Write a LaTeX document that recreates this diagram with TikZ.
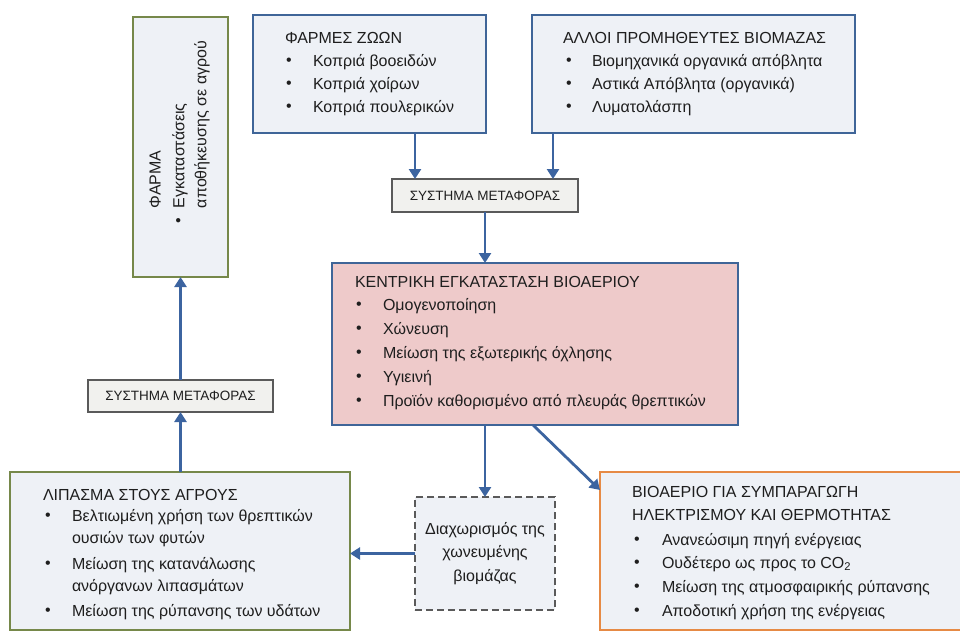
\documentclass[tikz,border=0pt]{standalone}
\usepackage{fontspec}
\setmainfont{Liberation Sans}
\usetikzlibrary{arrows.meta}
\definecolor{bblue}{HTML}{3F6598}
\definecolor{arrblue}{HTML}{3C64A0}
\definecolor{boxfill}{HTML}{EEF1F6}
\definecolor{pinkfill}{HTML}{EECACA}
\definecolor{olivec}{HTML}{76884A}
\definecolor{orng}{HTML}{E68A45}
\definecolor{grayb}{HTML}{5A5A5A}
\definecolor{grayfill}{HTML}{F1F1EE}
\definecolor{txtc}{HTML}{1E1E1E}
\newcommand\bitem[5]{%
  \node[bul] (#1-b) at (#2,#4) {•};
  \node[txt] (#1) at (#3,#4) {#5};}
\begin{document}
\begin{tikzpicture}[x=1pt,y=-1pt,
  every node/.style={inner sep=0pt,outer sep=0pt},
  box/.style={draw,line width=2.3pt,anchor=north west},
  bluebox/.style={box,draw=bblue,fill=boxfill},
  greenbox/.style={box,draw=olivec,fill=boxfill},
  trbox/.style={box,draw=grayb,line width=1.3pt,fill=grayfill},
  txt/.style={anchor=west,font=\fontsize{16}{19}\selectfont,text=txtc},
  bul/.style={anchor=center,font=\fontsize{16}{19}\selectfont,text=txtc},
  trtxt/.style={anchor=center,font=\fontsize{13.5}{16}\selectfont,text=txtc},
  rtxt/.style={anchor=west,rotate=90,font=\fontsize{16}{19}\selectfont,text=txtc},
  arr/.style={draw=arrblue,line width=2.8pt,-{Triangle[width=12pt,length=10pt]}}]
\useasboundingbox (0,0) rectangle (960,632);
\clip (0,0) rectangle (960,632);

% ---- boxes ----
\node[greenbox,minimum width=95pt,minimum height=260pt] (farm) at (133,17) {};
\node[bluebox,minimum width=233pt,minimum height=118pt] (zoo) at (253,15) {};
\node[bluebox,minimum width=323pt,minimum height=118pt] (other) at (532,15) {};
\node[trbox,minimum width=186pt,minimum height=33pt] (tr1) at (392,179) {};
\node[box,draw=bblue,fill=pinkfill,minimum width=406pt,minimum height=162pt] (cent) at (332,263) {};
\node[trbox,minimum width=185pt,minimum height=32pt] (tr2) at (88,380) {};
\node[greenbox,minimum width=340pt,minimum height=158pt] (lip) at (10,472) {};
\node[box,draw=orng,fill=boxfill,minimum width=370pt,minimum height=158pt] (bio) at (600,472) {};
\node[draw=grayb,dashed,dash pattern=on 7pt off 4pt,line width=1.6pt,fill=boxfill,
      minimum width=140pt,minimum height=113pt,align=center,
      font=\fontsize{16}{23.5}\selectfont,text=txtc] (sep) at (485,553.5)
      {Διαχωρισμός της\\χωνευμένης\\βιομάζας};

% ---- texts ----
\node[trtxt] (tr1t) at (tr1.center) {ΣΥΣΤΗΜΑ ΜΕΤΑΦΟΡΑΣ};
\node[trtxt] (tr2t) at (tr2.center) {ΣΥΣΤΗΜΑ ΜΕΤΑΦΟΡΑΣ};

\node[rtxt] (farmt) at (155,208) {ΦΑΡΜΑ};
\node[bul,rotate=90] (farm-b) at (180,221) {•};
\node[rtxt] (farm1) at (180,208) {Εγκαταστάσεις};
\node[rtxt] (farm2) at (202,208) {αποθήκευσης σε αγρού};

\node[txt] (zoot) at (285,38) {ΦΑΡΜΕΣ ΖΩΩΝ};
\bitem{zoo1}{289}{313}{62}{Κοπριά βοοειδών}
\bitem{zoo2}{289}{313}{85}{Κοπριά χοίρων}
\bitem{zoo3}{289}{313}{108}{Κοπριά πουλερικών}

\node[txt] (othert) at (563,38) {ΑΛΛΟΙ ΠΡΟΜΗΘΕΥΤΕΣ ΒΙΟΜΑΖΑΣ};
\bitem{oth1}{569}{592}{62}{Βιομηχανικά οργανικά απόβλητα}
\bitem{oth2}{569}{592}{85}{Αστικά Απόβλητα (οργανικά)}
\bitem{oth3}{569}{592}{108}{Λυματολάσπη}

\node[txt] (centt) at (355,282) {ΚΕΝΤΡΙΚΗ ΕΓΚΑΤΑΣΤΑΣΗ ΒΙΟΑΕΡΙΟΥ};
\bitem{cen1}{359}{383}{306}{Ομογενοποίηση}
\bitem{cen2}{359}{383}{330}{Χώνευση}
\bitem{cen3}{359}{383}{354}{Μείωση της εξωτερικής όχλησης}
\bitem{cen4}{359}{383}{378}{Υγιεινή}
\bitem{cen5}{359}{383}{402}{Προϊόν καθορισμένο από πλευράς θρεπτικών}

\node[txt] (lipt) at (43,495) {ΛΙΠΑΣΜΑ ΣΤΟΥΣ ΑΓΡΟΥΣ};
\bitem{lip1}{48}{72}{517}{Βελτιωμένη χρήση των θρεπτικών}
\node[txt] (lip1b) at (72,539) {ουσιών των φυτών};
\bitem{lip2}{48}{72}{565}{Μείωση της κατανάλωσης}
\node[txt] (lip2b) at (72,587) {ανόργανων λιπασμάτων};
\bitem{lip3}{48}{72}{612}{Μείωση της ρύπανσης των υδάτων}

\node[txt] (biot1) at (632,492) {ΒΙΟΑΕΡΙΟ ΓΙΑ ΣΥΜΠΑΡΑΓΩΓΗ};
\node[txt] (biot2) at (632,515) {ΗΛΕΚΤΡΙΣΜΟΥ ΚΑΙ ΘΕΡΜΟΤΗΤΑΣ};
\bitem{bio1}{637}{662}{541}{Ανανεώσιμη πηγή ενέργειας}
\bitem{bio2}{637}{662}{564}{Ουδέτερο ως προς το CO\textsubscript{2}}
\bitem{bio3}{637}{662}{588}{Μείωση της ατμοσφαιρικής ρύπανσης}
\bitem{bio4}{637}{662}{612}{Αποδοτική χρήση της ενέργειας}

% ---- connectors ----
\coordinate (a1) at ([xshift=-70pt]tr1.north);
\coordinate (a2) at ([xshift=68pt]tr1.north);
\draw[arr] (a1 |- zoo.south) -- (a1);
\draw[arr] (a2 |- other.south) -- (a2);
\draw[arr] (tr1.south) -- (tr1.south |- cent.north);
\draw[arr] (sep.north |- cent.south) -- (sep.north);
\draw[arr] ([xshift=201pt]cent.south west) -- ([yshift=-18pt]bio.north west);
\draw[arr] (sep.west) -- (sep.west -| lip.east);
\draw[arr] (tr2.south |- lip.north) -- (tr2.south);
\draw[arr] (tr2.north) -- (tr2.north |- farm.south);
\end{tikzpicture}
\end{document}
